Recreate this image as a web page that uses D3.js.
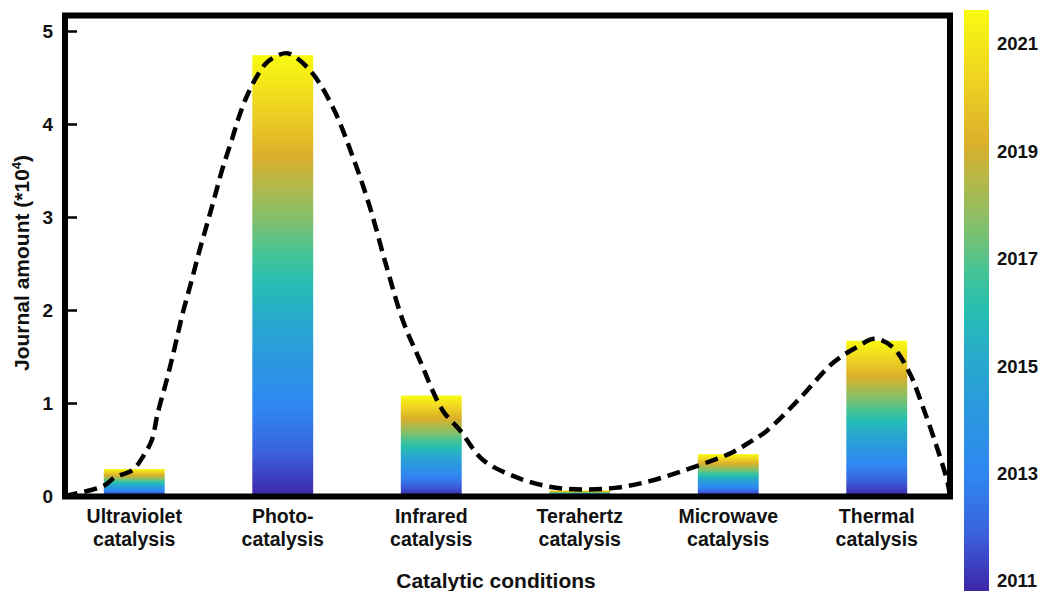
<!DOCTYPE html>
<html>
<head>
<meta charset="utf-8">
<script src="https://cdn.jsdelivr.net/npm/d3@7/dist/d3.min.js"></script>
<style>
  html, body { margin: 0; padding: 0; background: #fff; }
  svg { display: block; font-family: "Liberation Sans", Arial, Helvetica, sans-serif; }
</style>
</head>
<body>
<svg id="chart" width="1042" height="591"></svg>
<script>
// ---------------- data ----------------
const categories = [
  ["Ultraviolet", "catalysis"],
  ["Photo-", "catalysis"],
  ["Infrared", "catalysis"],
  ["Terahertz", "catalysis"],
  ["Microwave", "catalysis"],
  ["Thermal", "catalysis"]
];
const journalAmount = [0.29, 4.74, 1.08, 0.06, 0.45, 1.67];   // (*10^4)

// dashed trend curve: position in category units (0 = first category) and value
const trendPos = [-0.468, -0.205, -0.131, -0.010, 0.057, 0.118, 0.158, 0.219, 0.273, 0.327, 0.387, 0.441,
                  0.495, 0.542, 0.596, 0.657, 0.710, 0.764, 0.825, 0.892, 0.970,
                  1.035, 1.182, 1.337, 1.471, 1.586, 1.700, 1.808, 1.923, 2.077, 2.192, 2.347, 2.576, 2.798,
                  3.020, 3.249, 3.471, 3.694, 3.923, 4.030, 4.145, 4.259, 4.482, 4.704, 4.865, 4.987,
                  5.108, 5.222, 5.310, 5.404, 5.478, 5.492];
const trendVal = [0, 0.11, 0.20, 0.28, 0.42, 0.60, 0.89, 1.25, 1.60, 1.97, 2.32, 2.65,
                  2.95, 3.22, 3.53, 3.83, 4.10, 4.32, 4.51, 4.66, 4.74,
                  4.76, 4.58, 4.18, 3.65, 3.11, 2.46, 1.89, 1.46, 0.92, 0.71, 0.39, 0.20, 0.10,
                  0.07, 0.09, 0.16, 0.27, 0.40, 0.47, 0.58, 0.70, 1.05, 1.43, 1.60, 1.69,
                  1.60, 1.32, 0.96, 0.53, 0.14, 0];

const yTicks = [0, 1, 2, 3, 4, 5];
const yearTicks = [2011, 2013, 2015, 2017, 2019, 2021];
const yLabel = "Journal amount (*10";
const yLabelSup = "4";
const xLabel = "Catalytic conditions";

// parula-like colormap stops (offset, colour)
const colormap = [
  [0.00, "#3e26a8"], [0.10, "#3a62de"], [0.20, "#2f87f3"], [0.30, "#2a96e0"],
  [0.40, "#29a9cd"], [0.48, "#25bdb3"], [0.55, "#45c496"], [0.62, "#7dc070"],
  [0.69, "#aaba4e"], [0.77, "#dbaf2a"], [0.88, "#eed322"], [1.00, "#f9fa10"]
];

// ---------------- layout ----------------
const svg = d3.select("#chart");
const frame = { left: 65, right: 950, top: 15.5, bottom: 496.5 };

const x = d3.scaleBand()
  .domain(d3.range(categories.length))
  .range([60, 951])
  .paddingInner(0.59)
  .paddingOuter(0.295);

const xIdx = d3.scaleLinear()
  .domain([0, categories.length - 1])
  .range([x(0) + x.bandwidth() / 2, x(categories.length - 1) + x.bandwidth() / 2]);

const y = d3.scaleLinear().domain([0, 5]).range([496, 31]);

// gradients
const defs = svg.append("defs");
const grad = defs.append("linearGradient")
  .attr("id", "parula")
  .attr("x1", 0).attr("y1", 1).attr("x2", 0).attr("y2", 0);
grad.selectAll("stop").data(colormap).join("stop")
  .attr("offset", d => d[0])
  .attr("stop-color", d => d[1]);

// ---------------- bars ----------------
svg.append("g").selectAll("rect")
  .data(journalAmount)
  .join("rect")
  .attr("x", (d, i) => x(i))
  .attr("width", x.bandwidth())
  .attr("y", d => y(d))
  .attr("height", d => y(0) - y(d))
  .attr("fill", "url(#parula)");

// ---------------- trend curve ----------------
const trend = trendPos.map((p, i) => [p, trendVal[i]]);
svg.append("path")
  .datum(trend)
  .attr("fill", "none")
  .attr("stroke", "#000")
  .attr("stroke-width", 4.5)
  .attr("stroke-dasharray", "13,7")
  .attr("d", d3.line()
    .x(d => xIdx(d[0]))
    .y(d => y(d[1]))
    .curve(d3.curveCatmullRom.alpha(0.5)));

// ---------------- frame ----------------
svg.append("rect")
  .attr("x", frame.left).attr("y", frame.top)
  .attr("width", frame.right - frame.left)
  .attr("height", frame.bottom - frame.top)
  .attr("fill", "none")
  .attr("stroke", "#000")
  .attr("stroke-width", 6);

// ---------------- y axis ----------------
const yAxis = svg.append("g")
  .attr("transform", `translate(${frame.left},0)`)
  .call(d3.axisRight(y).tickValues(yTicks).tickSize(12).tickFormat(d3.format("d")));
yAxis.select(".domain").remove();
yAxis.selectAll(".tick line").attr("stroke", "#000").attr("stroke-width", 2.5);
yAxis.selectAll(".tick text")
  .attr("x", -12)
  .attr("text-anchor", "end")
  .attr("fill", "#111")
  .style("font-size", "19px")
  .style("font-weight", "bold");

// y label
const yl = svg.append("text")
  .attr("transform", "translate(29,263) rotate(-90)")
  .attr("text-anchor", "middle")
  .attr("fill", "#111")
  .style("font-size", "21px")
  .style("font-weight", "bold");
yl.append("tspan").text(yLabel);
yl.append("tspan").text(yLabelSup).attr("dy", -8).style("font-size", "13px");
yl.append("tspan").text(")").attr("dy", 8);

// ---------------- x labels ----------------
const xl = svg.append("g").selectAll("text")
  .data(categories)
  .join("text")
  .attr("text-anchor", "middle")
  .attr("fill", "#111")
  .style("font-size", "19.5px")
  .style("font-weight", "bold")
  .attr("transform", (d, i) => `translate(${xIdx(i)},523)`);
xl.selectAll("tspan")
  .data(d => d)
  .join("tspan")
  .attr("x", 0)
  .attr("dy", (d, j) => j === 0 ? 0 : 23)
  .text(d => d);

svg.append("text")
  .attr("x", 496).attr("y", 588)
  .attr("text-anchor", "middle")
  .attr("fill", "#111")
  .style("font-size", "21px")
  .style("font-weight", "bold")
  .text(xLabel);

// ---------------- colour bar ----------------
const cbY = d3.scaleLinear().domain([2011, 2021]).range([581, 44]);
svg.append("rect")
  .attr("x", 964).attr("y", 10)
  .attr("width", 25).attr("height", 581)
  .attr("fill", "url(#parula)");

svg.append("g").selectAll("text")
  .data(yearTicks)
  .join("text")
  .attr("x", 997)
  .attr("y", d => cbY(d))
  .attr("dy", "0.35em")
  .attr("fill", "#111")
  .style("font-size", "18.5px")
  .style("font-weight", "bold")
  .text(d => d);
</script>
</body>
</html>
